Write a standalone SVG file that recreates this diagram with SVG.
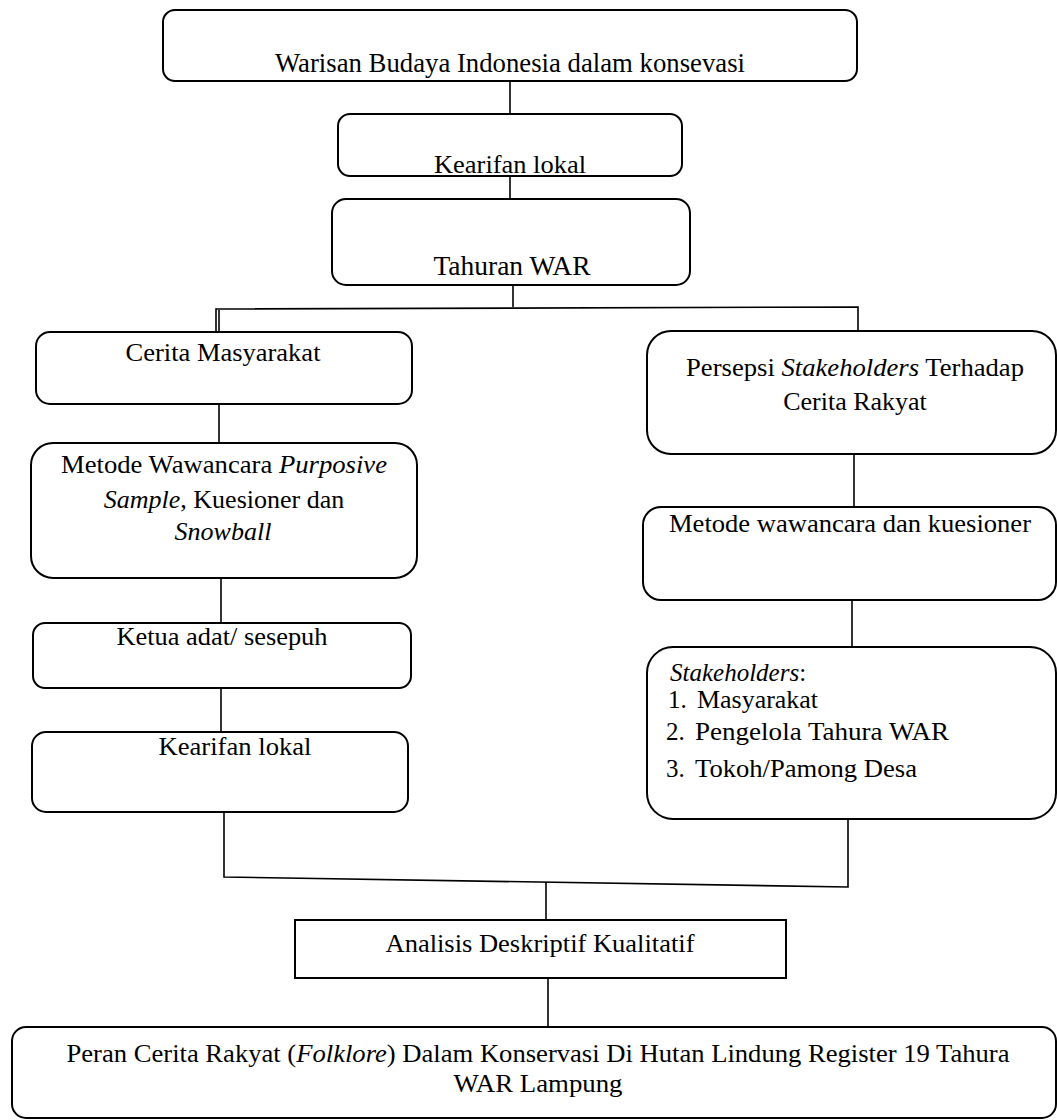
<svg xmlns="http://www.w3.org/2000/svg" width="1057" height="1120" viewBox="0 0 1057 1120">
<style>
.box{fill:#fff;stroke:#000;stroke-width:2}
.ln{stroke:#000;stroke-width:1.6;fill:none}
text{font-family:"Liberation Serif","Times New Roman",serif;font-size:26px;fill:#000}
.c{text-anchor:middle}
.i{font-style:italic}
.big{font-size:27.5px}
.s{font-size:25px}
</style>
<rect width="1057" height="1120" fill="#fff"/>
<g id="connectors">
<line class="ln" x1="510" y1="81" x2="510" y2="117"/>
<line class="ln" x1="510" y1="176" x2="510" y2="200"/>
<line class="ln" x1="513" y1="283" x2="513" y2="307"/>
<polyline class="ln" points="216,333 216,309 858,307 858,333"/>
<line class="ln" x1="219" y1="310" x2="219" y2="333"/>
<line class="ln" x1="219" y1="404" x2="219" y2="443"/>
<line class="ln" x1="221" y1="555" x2="221" y2="563"/>
<line class="ln" x1="221" y1="578" x2="221" y2="623"/>
<line class="ln" x1="221" y1="688" x2="221" y2="732"/>
<line class="ln" x1="854" y1="454" x2="854" y2="507"/>
<line class="ln" x1="852" y1="600" x2="852" y2="647"/>
<polyline class="ln" points="224,812 224,877 848,887 848,820"/>
<line class="ln" x1="546" y1="882" x2="546" y2="920"/>
<line class="ln" x1="548" y1="978" x2="548" y2="1027"/>
</g>
<g id="n1"><rect class="box" x="163" y="10" width="694" height="71" rx="12"/>
<text class="c big" x="510" y="72" textLength="470" lengthAdjust="spacingAndGlyphs">Warisan Budaya Indonesia dalam konsevasi</text></g>
<g id="n2"><rect class="box" x="338" y="114" width="344" height="62" rx="12"/>
<text class="c" x="510" y="173" textLength="152" lengthAdjust="spacingAndGlyphs">Kearifan lokal</text></g>
<g id="n3"><rect class="box" x="332" y="199" width="358" height="86" rx="14"/>
<text class="c big" x="512" y="275" textLength="157" lengthAdjust="spacingAndGlyphs">Tahuran WAR</text></g>
<g id="n4"><rect class="box" x="36" y="332" width="376" height="72" rx="14"/>
<text class="c" x="223" y="361" textLength="195" lengthAdjust="spacingAndGlyphs">Cerita Masyarakat</text></g>
<g id="n5"><rect class="box" x="31" y="443" width="386" height="135" rx="22"/>
<text class="c" x="224" y="473" textLength="326" lengthAdjust="spacingAndGlyphs">Metode Wawancara <tspan class="i">Purposive</tspan></text>
<text class="c" x="224" y="508"><tspan class="i">Sample</tspan>, Kuesioner dan</text>
<text class="c i" x="223" y="540">Snowball</text></g>
<g id="n6"><rect class="box" x="33" y="623" width="378" height="65" rx="12"/>
<text class="c" x="222" y="645" textLength="211" lengthAdjust="spacingAndGlyphs">Ketua adat/ sesepuh</text></g>
<g id="n7"><rect class="box" x="32" y="732" width="376" height="80" rx="14"/>
<text class="c" x="235" y="755" textLength="153" lengthAdjust="spacingAndGlyphs">Kearifan lokal</text></g>
<g id="n8"><rect class="box" x="647" y="331" width="409" height="123" rx="24"/>
<text class="c" x="855" y="376" textLength="338" lengthAdjust="spacingAndGlyphs">Persepsi <tspan class="i">Stakeholders</tspan> Terhadap</text>
<text class="c" x="855" y="410">Cerita Rakyat</text></g>
<g id="n9"><rect class="box" x="643" y="507" width="413" height="93" rx="18"/>
<text class="c" x="850" y="532" textLength="362" lengthAdjust="spacingAndGlyphs">Metode wawancara dan kuesioner</text></g>
<g id="n10"><rect class="box" x="647" y="647" width="409" height="172" rx="26"/>
<text class="s" x="670" y="681"><tspan class="i">Stakeholders</tspan>:</text>
<text class="s" x="668" y="708">1.</text><text class="s" x="697" y="708" textLength="121" lengthAdjust="spacingAndGlyphs">Masyarakat</text>
<text class="s" x="666" y="740">2.</text><text class="s" x="695" y="740" textLength="254" lengthAdjust="spacingAndGlyphs">Pengelola Tahura WAR</text>
<text class="s" x="666" y="777">3.</text><text class="s" x="695" y="777" textLength="222" lengthAdjust="spacingAndGlyphs">Tokoh/Pamong Desa</text></g>
<g id="n11"><rect class="box" x="295" y="920" width="491" height="58"/>
<text class="c" x="540" y="952" textLength="309" lengthAdjust="spacingAndGlyphs">Analisis Deskriptif Kualitatif</text></g>
<g id="n12"><rect class="box" x="12" y="1027" width="1044" height="91" rx="14"/>
<text class="c" x="538" y="1062" textLength="943" lengthAdjust="spacingAndGlyphs">Peran Cerita Rakyat (<tspan class="i">Folklore</tspan>) Dalam Konservasi Di Hutan Lindung Register 19 Tahura</text>
<text class="c" x="538" y="1092" textLength="169" lengthAdjust="spacingAndGlyphs">WAR Lampung</text></g>
</svg>
